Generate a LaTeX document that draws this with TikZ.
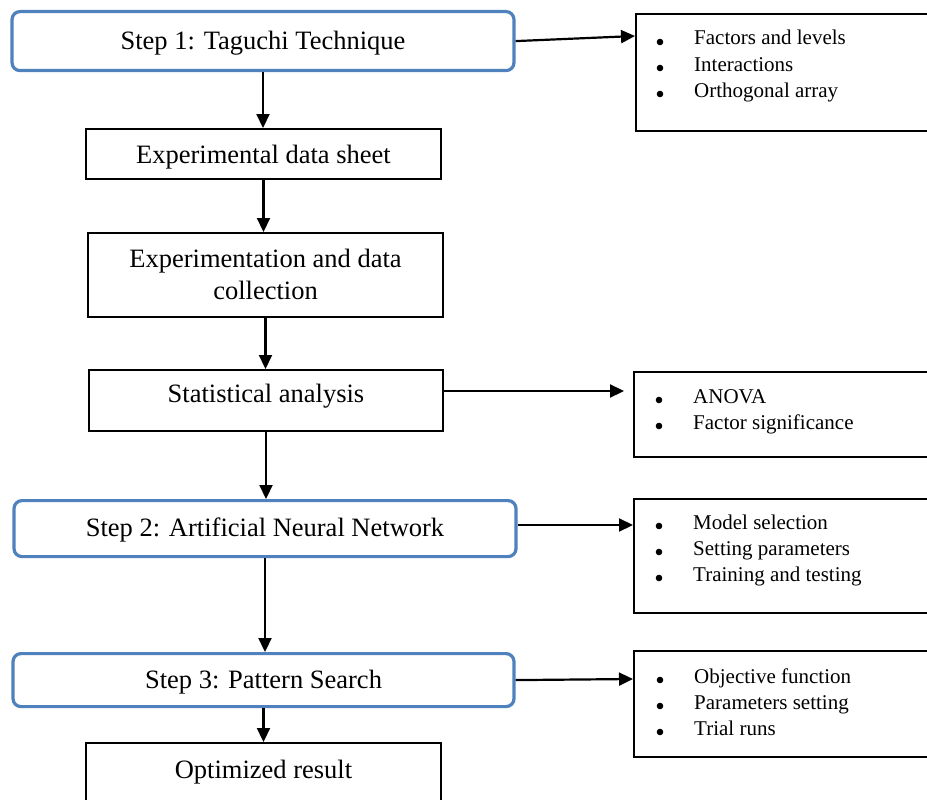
\documentclass[tikz,border=0pt]{standalone}
\usepackage{fontspec}
\setmainfont{Liberation Serif}
\usetikzlibrary{arrows.meta,calc}
\definecolor{stepblue}{HTML}{4F81BD}
\begin{document}
\begin{tikzpicture}[x=1pt,y=-1pt,
  stepbox/.style={draw=stepblue,line width=3.2pt,rounded corners=8pt,anchor=north,inner sep=0pt,font=\fontsize{26.5}{32}\selectfont},
  plainbox/.style={draw=black,line width=1.7pt,anchor=north,inner sep=0pt,font=\fontsize{26.5}{32}\selectfont},
  listbox/.style={draw=black,line width=1.7pt,anchor=north west,inner sep=0pt,minimum width=310pt},
  listitem/.style={anchor=base west,inner sep=0pt,font=\fontsize{21}{26}\selectfont},
  arr/.style={line width=2.2pt,-{Triangle[length=14pt,width=13pt]}}]
\useasboundingbox (0,0) rectangle (927,800);
\clip (0,0) rectangle (927,800);

% main column
\node[stepbox,minimum width=502pt,text height=38pt,text depth=21pt] (s1) at (263,10) {Step 1: Taguchi Technique};
\node[plainbox,minimum width=355pt,text height=35pt,text depth=15pt] (d1) at (263.5,128) {Experimental data sheet};
\node[plainbox,minimum width=355pt,minimum height=84pt,align=center] (d2) at (265.5,232) {Experimentation and data\\collection};
\node[plainbox,minimum width=354pt,text height=33pt,text depth=28pt] (d3) at (266,369) {Statistical analysis};
\node[stepbox,minimum width=502pt,text height=36pt,text depth=20pt] (s2) at (265,499) {Step 2: Artificial Neural Network};
\node[stepbox,minimum width=501pt,text height=35pt,text depth=18pt] (s3) at (263.5,652) {Step 3: Pattern Search};
\node[plainbox,minimum width=355pt,text height=36pt,text depth=44pt] (d4) at (263.5,742) {Optimized result};

% right boxes
\node[listbox,minimum height=117pt] (r1) at (635,13) {};
\node[listitem] (r1a) at (694,45) {Factors and levels};
\node[listitem] (r1b) at (694,71) {Interactions};
\node[listitem] (r1c) at (694,97) {Orthogonal array};

\node[listbox,minimum height=85pt] (r2) at (633,371) {};
\node[listitem] (r2a) at (693,403) {ANOVA};
\node[listitem] (r2b) at (693,429) {Factor significance};

\node[listbox,minimum height=114pt] (r3) at (633,498) {};
\node[listitem] (r3a) at (693,529) {Model selection};
\node[listitem] (r3b) at (693,555) {Setting parameters};
\node[listitem] (r3c) at (693,581) {Training and testing};

\node[listbox,minimum height=106pt] (r4) at (633,650) {};
\node[listitem] (r4a) at (694,683) {Objective function};
\node[listitem] (r4b) at (694,709) {Parameters setting};
\node[listitem] (r4c) at (694,735) {Trial runs};

% bullets
\foreach \n in {r1a,r1b,r1c,r2a,r2b,r3a,r3b,r3c,r4a,r4b,r4c}
  \fill ($(\n.base west)+(-34,-3)$) circle (3.3pt);

% arrow end points
\coordinate (r1in) at (635,36);
\coordinate (r2in) at (624,391);
\coordinate (r3in) at (633,525);
\coordinate (r4in) at (633,679);

% vertical arrows
\draw[arr] (s1.south) -- (s1.south |- d1.north);
\draw[arr] (d1.south) -- (d1.south |- d2.north);
\draw[arr] (d2.south) -- (d2.south |- d3.north);
\draw[arr] (d3.south) -- (d3.south |- s2.north);
\draw[arr] (s2.south) -- (s2.south |- s3.north);
\draw[arr] (s3.south) -- (s3.south |- d4.north);

% horizontal arrows
\draw[arr] (s1.east) -- (r1in);
\draw[arr] (d3.east |- r2in) -- (r2in);
\draw[arr] (s2.east |- r3in) -- (r3in);
\draw[arr] (s3.east) -- (r4in);
\end{tikzpicture}
\end{document}
